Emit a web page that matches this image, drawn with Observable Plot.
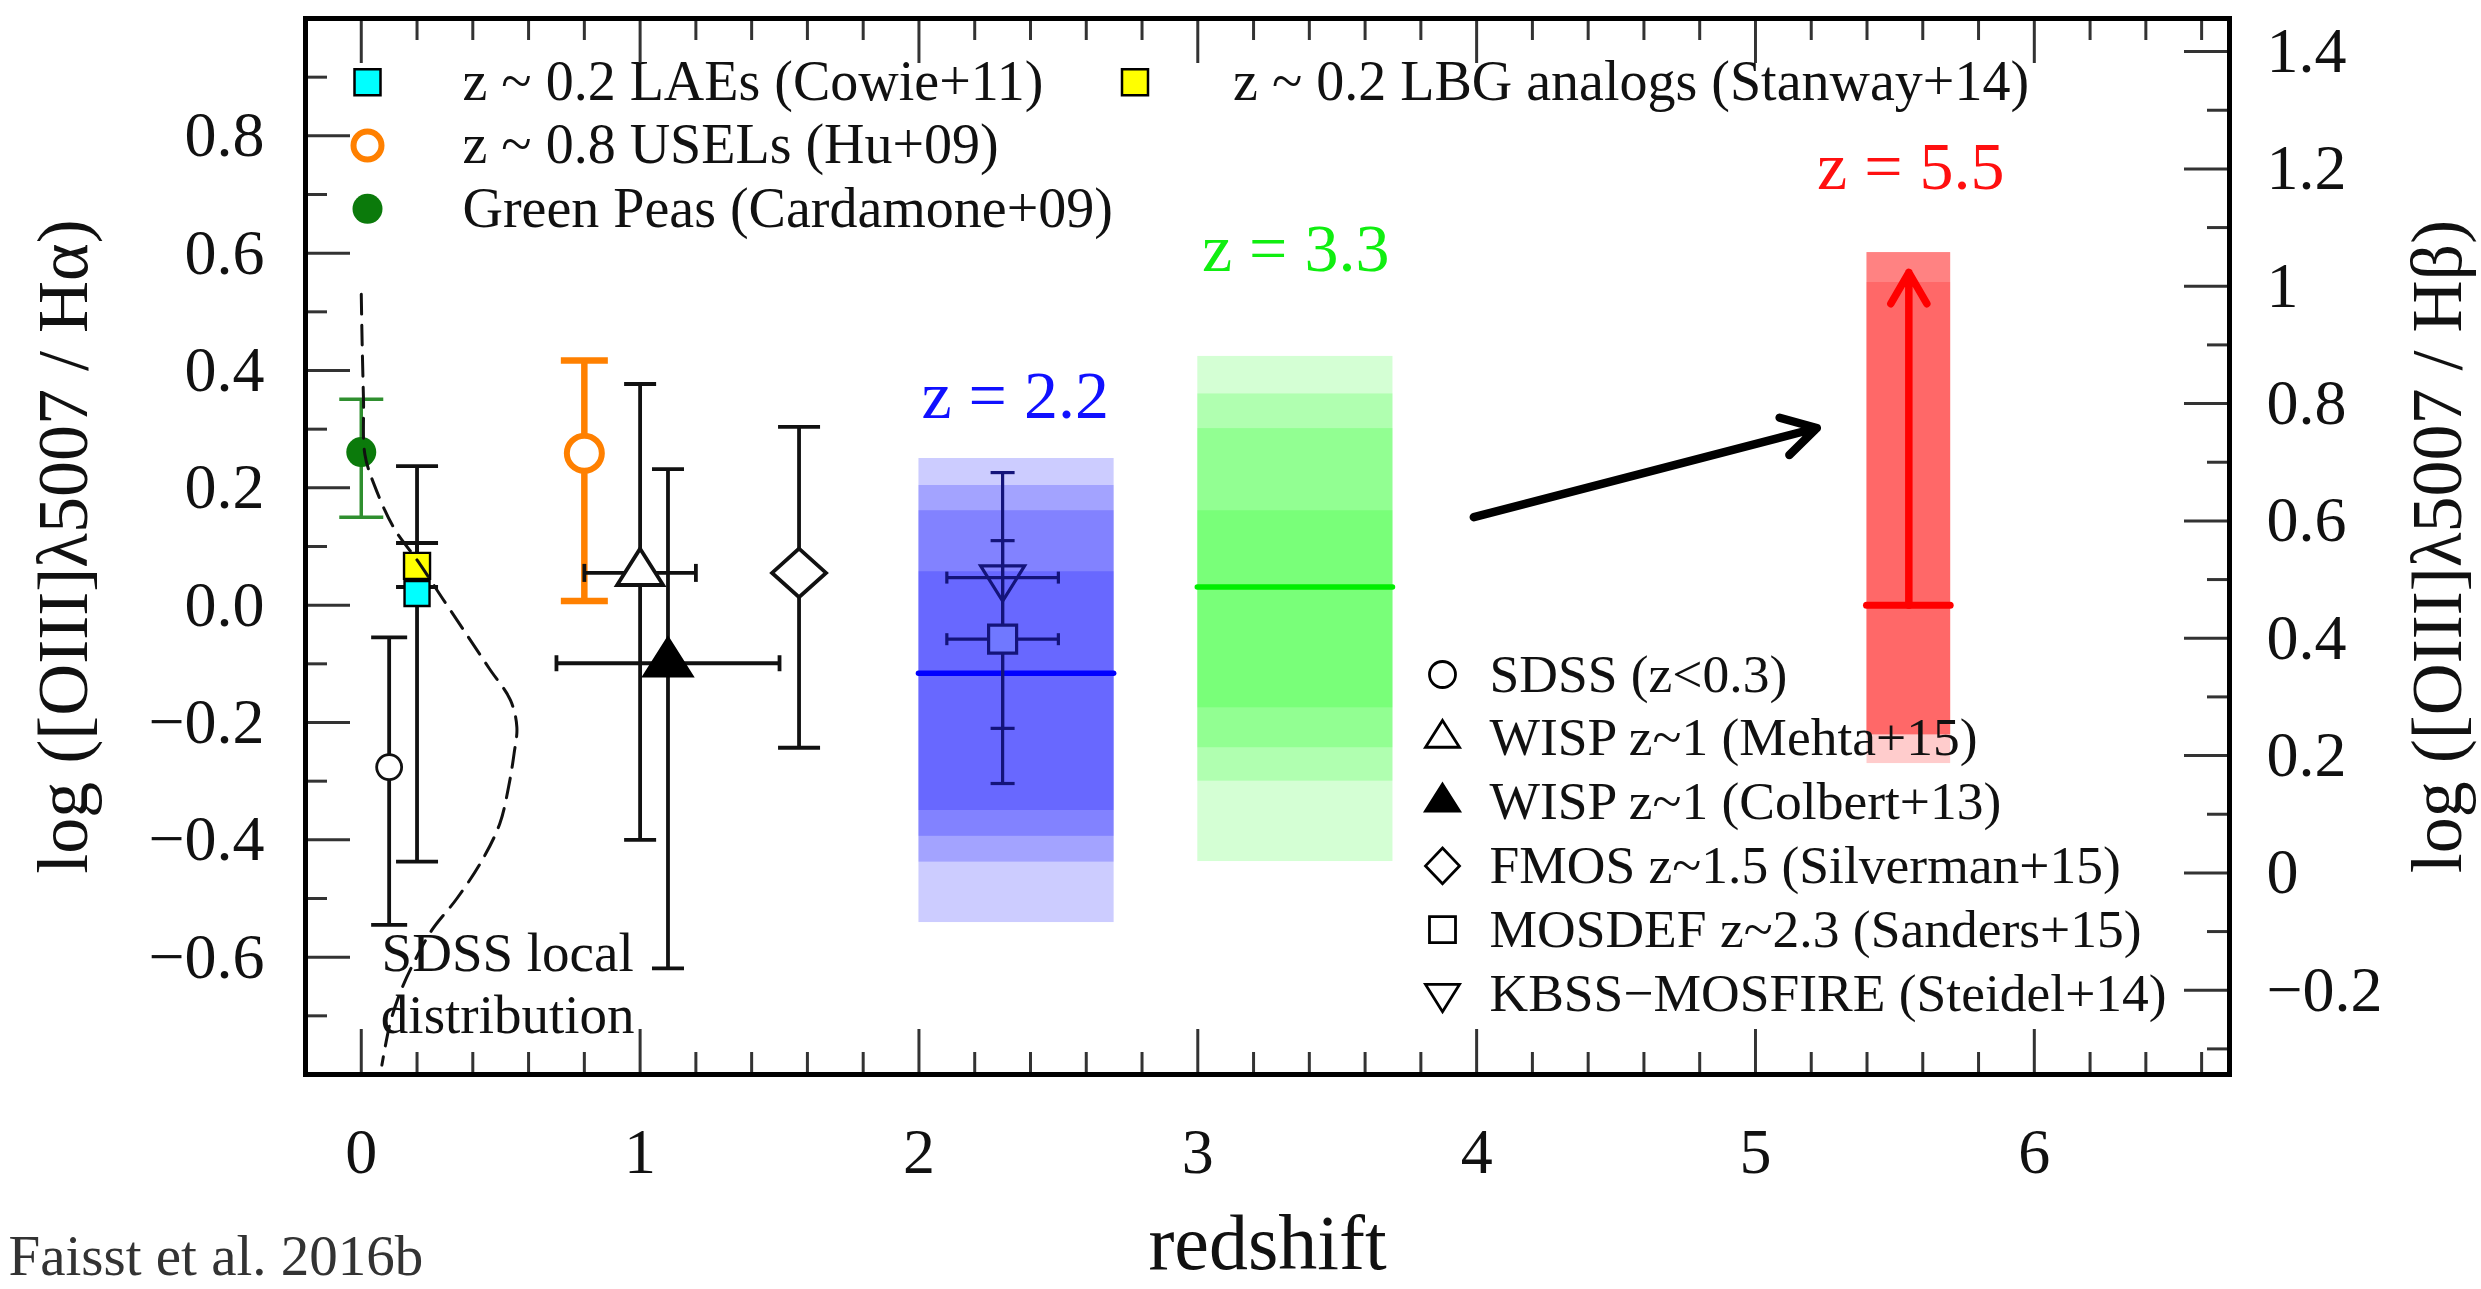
<!DOCTYPE html>
<html>
<head>
<meta charset="utf-8">
<script src="https://cdn.jsdelivr.net/npm/d3@7"></script>
<script src="https://cdn.jsdelivr.net/npm/@observablehq/plot@0.6"></script>
<style>
  html, body { margin: 0; padding: 0; background: #fff; }
  svg { display: block; }
</style>
</head>
<body>
<div id="chart"></div>
<script>
// ================= DATA =================
// Literature samples: redshift, log([OIII]5007/Halpha) and error ranges
const sampleNames = [
  "z ~ 0.2 LAEs (Cowie+11)",
  "z ~ 0.2 LBG analogs (Stanway+14)",
  "Green Peas (Cardamone+09)",
  "SDSS (z<0.3)",
  "z ~ 0.8 USELs (Hu+09)",
  "WISP z~1 (Mehta+15)",
  "WISP z~1 (Colbert+13)",
  "FMOS z~1.5 (Silverman+15)",
  "MOSDEF z~2.3 (Sanders+15)",
  "KBSS\u2212MOSFIRE (Steidel+14)"
];
const sampleZ       = [0.2,    0.2,   0.0,    0.1,    0.8,   1.0,    1.1,    1.57,   2.3,    2.3];
const sampleRatio   = [0.020,  0.067, 0.261, -0.276,  0.259, 0.055, -0.099,  0.055, -0.058,  0.047];
const sampleRatioLo = [-0.437, 0.031, 0.150, -0.545,  0.007, -0.400, -0.619, -0.243, -0.304, -0.210];
const sampleRatioHi = [0.237,  0.106, 0.351, -0.055,  0.417, 0.377,  0.232,  0.304,  0.110,  0.226];
const sampleZLo     = [null,   null,  null,   null,   null,  0.8,    0.7,    null,   2.1,    2.1];
const sampleZHi     = [null,   null,  null,   null,   null,  1.2,    1.5,    null,   2.5,    2.5];

// Predicted ranges (percentile bands) at z = 2.2, 3.3, 5.5
const bandLabels  = ["z = 2.2", "z = 3.3", "z = 5.5"];
const bandZStart  = [2.0, 3.0, 5.4];
const bandZEnd    = [2.7, 3.7, 5.7];
const bandMedian  = [-0.116, 0.031, 0.000];
const band22Lo = [-0.541, -0.438, -0.394, -0.350];
const band22Hi = [0.250, 0.204, 0.161, 0.057];
const band33Lo = [-0.437, -0.300, -0.243, -0.175];
const band33Hi = [0.424, 0.360, 0.301, 0.161];
const band55Lo = [-0.270, -0.221, -0.221, -0.221];
const band55Hi = [0.601, 0.601, 0.601, 0.550];
const bandLabelZ     = [2.345, 3.351, 5.557];
const bandLabelRatio = [0.356, 0.607, 0.747];

// z = 5.5 lower limit arrow and evolution arrow
const limitArrowZ = [5.55];
const limitArrowFrom = [0.000];
const limitArrowTo = [0.567];
const trendArrowZ = [3.99, 5.22];
const trendArrowRatio = [0.150, 0.302];

// SDSS local distribution (dashed curve)
const sdssCurveZ = [0.000, 0.003, 0.008, 0.013, 0.049, 0.119, 0.203, 0.292, 0.382, 0.459, 0.535,
                    0.558, 0.548, 0.529, 0.497, 0.432, 0.343, 0.253, 0.190, 0.145, 0.105, 0.074];
const sdssCurveRatio = [0.530, 0.450, 0.350, 0.257, 0.202, 0.130, 0.075, 0.011, -0.053, -0.108, -0.162,
                        -0.208, -0.253, -0.308, -0.372, -0.436, -0.500, -0.554, -0.608, -0.654, -0.710, -0.784];
const sdssLabel = ["SDSS local\ndistribution"];
const sdssLabelZ = [0.525];
const sdssLabelRatio = [-0.642];

// Axes
const xMajorTicks = [0, 1, 2, 3, 4, 5, 6];
const xTickLabels = ["0", "1", "2", "3", "4", "5", "6"];
const yMajorTicks = [-0.6, -0.4, -0.2, 0.0, 0.2, 0.4, 0.6, 0.8];
const yTickLabels = ["\u22120.6", "\u22120.4", "\u22120.2", "0.0", "0.2", "0.4", "0.6", "0.8"];
const rightMajorTicks = [-0.2, 0, 0.2, 0.4, 0.6, 0.8, 1.0, 1.2, 1.4];
const rightTickLabels = ["\u22120.2", "0", "0.2", "0.4", "0.6", "0.8", "1", "1.2", "1.4"];
const HA_TO_HB = Math.log10(2.86); // log(Halpha/Hbeta), case B

const xLabel = "redshift";
const yLabelLeft = "log ([OIII]\u03bb5007 / H\u03b1)";
const yLabelRight = "log ([OIII]\u03bb5007 / H\u03b2)";
const caption = "Faisst et al. 2016b";

// ================= STYLES =================
const FONT = "'Liberation Serif', 'Times New Roman', serif";
const W = 2481, H = 1289;
const M = {top: 18, right: 252, bottom: 215, left: 305};
const innerW = W - M.left - M.right, innerH = H - M.top - M.bottom;

// custom symbols (r = half width)
const rOf = (size) => Math.sqrt(size / Math.PI);
const hBar = {draw(c, s) { const r = rOf(s); c.moveTo(-r, 0); c.lineTo(r, 0); }};
const vBar = {draw(c, s) { const r = rOf(s); c.moveTo(0, -r); c.lineTo(0, r); }};
const triUp = {draw(c, s) { const r = rOf(s), h = 1.58 * r; c.moveTo(0, -2 * h / 3); c.lineTo(r, h / 3); c.lineTo(-r, h / 3); c.closePath(); }};
const triDown = {draw(c, s) { const r = rOf(s), h = 1.6 * r; c.moveTo(0, 2 * h / 3); c.lineTo(r, -h / 3); c.lineTo(-r, -h / 3); c.closePath(); }};
const diamondW = {draw(c, s) { const r = rOf(s), h = 0.9 * r; c.moveTo(0, -h); c.lineTo(r, 0); c.lineTo(0, h); c.lineTo(-r, 0); c.closePath(); }};
const diamondL = {draw(c, s) { const r = rOf(s), h = 1.05 * r; c.moveTo(0, -h); c.lineTo(r, 0); c.lineTo(0, h); c.lineTo(-r, 0); c.closePath(); }};
const square = {draw(c, s) { const r = rOf(s); c.moveTo(-r, -r); c.lineTo(r, -r); c.lineTo(r, r); c.lineTo(-r, r); c.closePath(); }};

const ORANGE = "#ff8000", NAVY = "#14147a", PEA = "#0b7a0b", PEA_ERR = "#2f8f2f";
const sampleStyle = {
  "z ~ 0.2 LAEs (Cowie+11)":         {symbol: square, r: 12.5, fill: "#00ffff", stroke: "#000", sw: 2.4, err: "#111", errSw: 3.8, cap: 21},
  "z ~ 0.2 LBG analogs (Stanway+14)":{symbol: square, r: 13, fill: "#ffff00", stroke: "#000", sw: 2.4, err: "#111", errSw: 3.8, cap: 21},
  "Green Peas (Cardamone+09)":       {symbol: "circle", r: 15, fill: PEA, stroke: "none", sw: 0, err: PEA_ERR, errSw: 3.5, cap: 22},
  "SDSS (z<0.3)":                    {symbol: "circle", r: 12.5, fill: "#fff", stroke: "#111", sw: 2.8, err: "#111", errSw: 3.8, cap: 18},
  "z ~ 0.8 USELs (Hu+09)":           {symbol: "circle", r: 17.5, fill: "#fff", stroke: ORANGE, sw: 6, err: ORANGE, errSw: 6.5, cap: 23.5},
  "WISP z~1 (Mehta+15)":             {symbol: triUp, r: 23, fill: "#fff", stroke: "#111", sw: 3.8, err: "#111", errSw: 3.8, cap: 16, xcap: 9},
  "WISP z~1 (Colbert+13)":           {symbol: triUp, r: 24, fill: "#000", stroke: "#000", sw: 3, err: "#111", errSw: 3.8, cap: 16, xcap: 8},
  "FMOS z~1.5 (Silverman+15)":       {symbol: diamondW, r: 27, fill: "#fff", stroke: "#111", sw: 3.8, err: "#111", errSw: 3.8, cap: 21},
  "MOSDEF z~2.3 (Sanders+15)":       {symbol: square, r: 14, fill: "#7078ff", stroke: NAVY, sw: 3.2, err: NAVY, errSw: 3.2, cap: 12, xcap: 6},
  "KBSS\u2212MOSFIRE (Steidel+14)":  {symbol: triDown, r: 22, fill: "none", stroke: NAVY, sw: 3.2, err: NAVY, errSw: 3.2, cap: 12, xcap: 6}
};

const samples = sampleNames.map((name, i) => ({
  name, z: sampleZ[i], v: sampleRatio[i], lo: sampleRatioLo[i], hi: sampleRatioHi[i],
  zlo: sampleZLo[i], zhi: sampleZHi[i], ...sampleStyle[name]
}));

const bandColors = ["#0000ff", "#00ff00", "#ff0000"];
const bandOpacity = [0.2, 0.17, 0.2];
const bandLows = [band22Lo, band33Lo, band55Lo];
const bandHighs = [band22Hi, band33Hi, band55Hi];
const labelColors = ["#1010ff", "#10ee10", "#ff1010"];
const medianColors = ["#0000ff", "#00ee00", "#ff0000"];

// ================= MARKS =================
const marks = [];

// bands
bandLabels.forEach((lab, k) => {
  const layers = bandLows[k].map((lo, j) => ({z1: bandZStart[k], z2: bandZEnd[k], lo, hi: bandHighs[k][j]}));
  marks.push(Plot.rect(layers, {x1: "z1", x2: "z2", y1: "lo", y2: "hi", fill: bandColors[k], fillOpacity: bandOpacity[k]}));
});
// medians
const medians = bandLabels.map((lab, k) => ({z1: bandZStart[k], z2: bandZEnd[k], v: bandMedian[k], c: medianColors[k]}));
medians.forEach((m, k) => {
  marks.push(Plot.ruleY([m], {y: "v", x1: "z1", x2: "z2", stroke: m.c, strokeWidth: k === 2 ? 7 : 5.5, strokeLinecap: "round"}));
});

// error bars
samples.forEach(s => {
  const d = [s];
  if (s.zlo != null) {
    marks.push(Plot.ruleY(d, {y: "v", x1: "zlo", x2: "zhi", stroke: s.err, strokeWidth: s.errSw}));
    marks.push(Plot.dot(d, {x: "zlo", y: "v", symbol: vBar, r: s.xcap, stroke: s.err, strokeWidth: s.errSw, fill: "none"}));
    marks.push(Plot.dot(d, {x: "zhi", y: "v", symbol: vBar, r: s.xcap, stroke: s.err, strokeWidth: s.errSw, fill: "none"}));
  }
  marks.push(Plot.ruleX(d, {x: "z", y1: "lo", y2: "hi", stroke: s.err, strokeWidth: s.errSw}));
  marks.push(Plot.dot(d, {x: "z", y: "lo", symbol: hBar, r: s.cap, stroke: s.err, strokeWidth: s.errSw, fill: "none"}));
  marks.push(Plot.dot(d, {x: "z", y: "hi", symbol: hBar, r: s.cap, stroke: s.err, strokeWidth: s.errSw, fill: "none"}));
});
// markers
samples.forEach(s => {
  marks.push(Plot.dot([s], {x: "z", y: "v", symbol: s.symbol, r: s.r, fill: s.fill, stroke: s.stroke, strokeWidth: s.sw}));
});

// SDSS local distribution
const sdssCurve = sdssCurveZ.map((z, i) => ({z, v: sdssCurveRatio[i]}));
marks.push(Plot.line(sdssCurve, {x: "z", y: "v", stroke: "#111", strokeWidth: 3, strokeDasharray: "20,11", curve: "catmull-rom"}));
marks.push(Plot.text(sdssLabel, {x: () => sdssLabelZ[0], y: () => sdssLabelRatio[0], text: d => d,
  fontSize: 55, lineHeight: 1.13, textAnchor: "middle", lineAnchor: "middle", fill: "#111"}));

// arrows
marks.push(Plot.arrow([0], {x1: () => trendArrowZ[0], y1: () => trendArrowRatio[0], x2: () => trendArrowZ[1], y2: () => trendArrowRatio[1],
  stroke: "#000", strokeWidth: 8.5, headLength: 6.8, headAngle: 60, strokeLinecap: "round", strokeLinejoin: "round"}));
marks.push(Plot.arrow(limitArrowZ, {x1: d => d, x2: d => d, y1: (d, i) => limitArrowFrom[i], y2: (d, i) => limitArrowTo[i],
  stroke: "#ff0000", strokeWidth: 7.5, headLength: 7.2, headAngle: 60, strokeLinecap: "round", strokeLinejoin: "round"}));

// band labels
marks.push(Plot.text(bandLabels, {x: (d, i) => bandLabelZ[i], y: (d, i) => bandLabelRatio[i], text: d => d,
  fill: (d, i) => labelColors[i], fontSize: 68, textAnchor: "middle", lineAnchor: "middle"}));

// ---------- legends ----------
const legendTop = [
  {label: sampleNames[0], symbol: square, r: 13, fill: "#00ffff", stroke: "#000", sw: 2.5, col: 0, row: 0},
  {label: sampleNames[4], symbol: "circle", r: 14, fill: "#fff", stroke: ORANGE, sw: 6, col: 0, row: 1},
  {label: sampleNames[2], symbol: "circle", r: 15, fill: PEA, stroke: "none", sw: 0, col: 0, row: 2},
  {label: sampleNames[1], symbol: square, r: 13, fill: "#ffff00", stroke: "#000", sw: 2.5, col: 1, row: 0}
];
const legendRight = [
  {label: sampleNames[3], symbol: "circle", r: 13, fill: "#fff", stroke: "#000", sw: 2.8},
  {label: sampleNames[5], symbol: triUp, r: 17, fill: "#fff", stroke: "#000", sw: 2.8},
  {label: sampleNames[6], symbol: triUp, r: 17, fill: "#000", stroke: "#000", sw: 2.8},
  {label: sampleNames[7], symbol: diamondL, r: 17, fill: "#fff", stroke: "#000", sw: 2.8},
  {label: sampleNames[8], symbol: square, r: 13, fill: "#fff", stroke: "#000", sw: 2.8},
  {label: sampleNames[9], symbol: triDown, r: 17, fill: "#fff", stroke: "#000", sw: 2.8}
];
const topCols = [{mx: 62, tx: 157}, {mx: 829.5, tx: 927.6}];
legendTop.forEach(it => {
  const dy = 63.7 + it.row * 63.3;
  const col = topCols[it.col];
  marks.push(Plot.dot([it], {frameAnchor: "top-left", dx: col.mx, dy, symbol: it.symbol, r: it.r, fill: it.fill, stroke: it.stroke, strokeWidth: it.sw}));
  marks.push(Plot.text([it], {frameAnchor: "top-left", dx: col.tx, dy, text: "label", fontSize: 56, textAnchor: "start", lineAnchor: "middle", fill: "#111"}));
});
legendRight.forEach((it, i) => {
  const dy = 656 + i * 63.8;
  marks.push(Plot.dot([it], {frameAnchor: "top-left", dx: 1137, dy, symbol: it.symbol, r: it.r, fill: it.fill, stroke: it.stroke, strokeWidth: it.sw}));
  marks.push(Plot.text([it], {frameAnchor: "top-left", dx: 1184, dy, text: "label", fontSize: 53.5, textAnchor: "start", lineAnchor: "middle", fill: "#111"}));
});

// ---------- axes: inward ticks on all four sides ----------
const TICK = "#333", MAJ = 45, MIN = 22, TSW = 3;
const xMinorTicks = d3.range(-0.2, 6.71, 0.2).map(v => Math.round(v * 10) / 10).filter(v => v > -0.2 && v < 6.7 && !Number.isInteger(v));
const yAllMajor = [-0.6, -0.4, -0.2, 0.0, 0.2, 0.4, 0.6, 0.8];
const yMinorTicks = d3.range(-0.7, 1.0, 0.2).map(v => Math.round(v * 10) / 10);
const rightMinorTicks = d3.range(-0.3, 1.45, 0.2).map(v => Math.round(v * 10) / 10);

marks.push(Plot.tickX(xMajorTicks, {x: d => d, insetTop: innerH - MAJ, stroke: TICK, strokeWidth: TSW}));
marks.push(Plot.tickX(xMinorTicks, {x: d => d, insetTop: innerH - MIN, stroke: TICK, strokeWidth: TSW}));
marks.push(Plot.tickX(xMajorTicks, {x: d => d, insetBottom: innerH - MAJ, stroke: TICK, strokeWidth: TSW}));
marks.push(Plot.tickX(xMinorTicks, {x: d => d, insetBottom: innerH - MIN, stroke: TICK, strokeWidth: TSW}));
marks.push(Plot.tickY(yAllMajor, {y: d => d, insetRight: innerW - MAJ, stroke: TICK, strokeWidth: TSW}));
marks.push(Plot.tickY(yMinorTicks, {y: d => d, insetRight: innerW - MIN, stroke: TICK, strokeWidth: TSW}));
marks.push(Plot.tickY(rightMajorTicks, {y: d => d - HA_TO_HB, insetLeft: innerW - MAJ, stroke: TICK, strokeWidth: TSW}));
marks.push(Plot.tickY(rightMinorTicks, {y: d => d - HA_TO_HB, insetLeft: innerW - MIN, stroke: TICK, strokeWidth: TSW}));

// tick labels
const TICK_FONT = 64;
marks.push(Plot.text(xMajorTicks, {x: d => d, frameAnchor: "bottom", dy: 78, text: (d, i) => xTickLabels[i], fontSize: TICK_FONT, textAnchor: "middle", lineAnchor: "middle", fill: "#111"}));
marks.push(Plot.text(yMajorTicks, {y: d => d, frameAnchor: "left", dx: -41, text: (d, i) => yTickLabels[i], fontSize: TICK_FONT, textAnchor: "end", lineAnchor: "middle", fill: "#111"}));
marks.push(Plot.text(rightMajorTicks, {y: d => d - HA_TO_HB, frameAnchor: "right", dx: 37, text: (d, i) => rightTickLabels[i], fontSize: TICK_FONT, textAnchor: "start", lineAnchor: "middle", fill: "#111"}));

// axis titles and caption
marks.push(Plot.text([xLabel], {frameAnchor: "bottom", dy: 170, text: d => d, fontSize: 78, textAnchor: "middle", lineAnchor: "middle", fill: "#111"}));
marks.push(Plot.text([yLabelLeft], {frameAnchor: "left", dx: -242, rotate: -90, text: d => d, fontSize: 72, textAnchor: "middle", lineAnchor: "middle", fill: "#111"}));
marks.push(Plot.text([yLabelRight], {frameAnchor: "right", dx: 208, rotate: -90, text: d => d, fontSize: 72, textAnchor: "middle", lineAnchor: "middle", fill: "#111"}));
marks.push(Plot.text([caption], {frameAnchor: "bottom-left", dx: -297, dy: 182, text: d => d, fontSize: 57, textAnchor: "start", lineAnchor: "middle", fill: "#333"}));

// frame
marks.push(Plot.frame({stroke: "#000", strokeWidth: 5}));

const chart = Plot.plot({
  width: W, height: H,
  marginTop: M.top, marginRight: M.right, marginBottom: M.bottom, marginLeft: M.left,
  x: {domain: [-0.2, 6.7], axis: null},
  y: {domain: [-0.8, 1.0], axis: null},
  style: {fontFamily: FONT, background: "#fff", overflow: "visible"},
  marks
});
document.getElementById("chart").appendChild(chart);
</script>
</body>
</html>
